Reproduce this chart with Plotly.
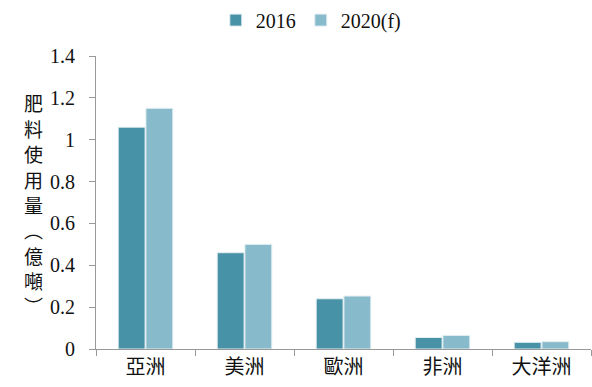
import plotly.graph_objects as go

categories = ["亞洲", "美洲", "歐洲", "非洲", "大洋洲"]
series_names = ["2016", "2020(f)"]
values_2016 = [1.06, 0.46, 0.24, 0.055, 0.032]
values_2020 = [1.15, 0.50, 0.253, 0.065, 0.035]
y_ticks = [0, 0.2, 0.4, 0.6, 0.8, 1, 1.2, 1.4]
y_tick_labels = ["0", "0.2", "0.4", "0.6", "0.8", "1", "1.2", "1.4"]
y_title_chars = ["肥", "料", "使", "用", "量", "︵", "億", "噸", "︶"]
# vertical positions of title characters (paper fraction of plot height)
y_title_pos = [0.840, 0.753, 0.667, 0.580, 0.493, 0.407, 0.320, 0.233, 0.147]

colors = ["#4892A7", "#87BBCC"]

fig = go.Figure()
for name, vals, col in zip(series_names, [values_2016, values_2020], colors):
    fig.add_trace(go.Bar(
        x=categories, y=vals, name=name,
        marker=dict(color=col, line=dict(color="#E4EEF1", width=1)),
    ))

serif = "Liberation Serif, Times New Roman, serif"
cjk = "Noto Sans CJK TC, Noto Sans CJK SC, sans-serif"

annotations = [
    dict(text=ch, xref="paper", yref="paper", x=-0.127, y=yp,
         xanchor="center", yanchor="middle", showarrow=False,
         font=dict(family=cjk, size=19, color="#111"))
    for ch, yp in zip(y_title_chars, y_title_pos)
]

fig.update_layout(
    width=592, height=387,
    margin=dict(l=96, r=1, t=56, b=38, autoexpand=False),
    paper_bgcolor="white", plot_bgcolor="white",
    barmode="group", bargap=0.44, bargroupgap=0.03,
    showlegend=True,
    legend=dict(orientation="h", x=0.525, xanchor="center", xref="container",
                y=0.948, yanchor="middle", yref="container",
                font=dict(family=serif, size=20, color="#111"),
                itemwidth=30, tracegroupgap=0),
    xaxis=dict(
        showline=True, linecolor="#999", linewidth=1,
        ticks="outside", tickson="boundaries", ticklen=6, tickcolor="#999",
        tickfont=dict(family=cjk, size=20, color="#111"),
        showgrid=False, automargin=False,
    ),
    yaxis=dict(
        range=[0, 1.4], tickvals=y_ticks, ticktext=y_tick_labels,
        showline=True, linecolor="#999", linewidth=1,
        ticks="outside", ticklen=6, tickcolor="#999",
        tickfont=dict(family=serif, size=20, color="#111"),
        ticklabelstandoff=10,
        showgrid=False, zeroline=False, automargin=False,
    ),
    annotations=annotations,
)

fig.write_html("out.html", config={"displayModeBar": False},
               post_script="document.body.style.margin='0';")
